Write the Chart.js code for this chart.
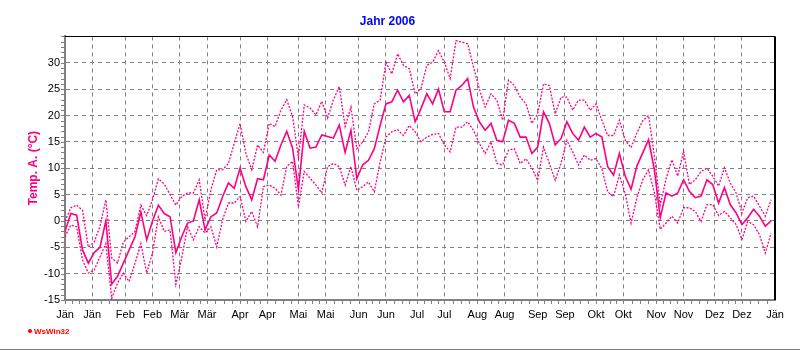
<!DOCTYPE html>
<html>
<head>
<meta charset="utf-8">
<script src="https://cdn.jsdelivr.net/npm/chart.js@4"></script>
<style>
    html, body { margin: 0; padding: 0; background: #fff; }
    #wrap { width: 800px; height: 350px; }
</style>
</head>
<body>
<div id="wrap"><canvas id="grafico" width="800" height="350"></canvas></div>
<script>
// Achse: Tage ab 1. Jänner
const tickTage = [0, 14, 31, 45, 59, 73, 90, 104, 120, 134, 151, 165, 181, 195, 212, 226, 243, 257, 273, 287, 304, 318, 334, 348, 365]
const tickNamen = ['Jän', 'Jän', 'Feb', 'Feb', 'Mär', 'Mär', 'Apr', 'Apr', 'Mai', 'Mai', 'Jun', 'Jun', 'Jul', 'Jul', 'Aug', 'Aug', 'Sep', 'Sep', 'Okt', 'Okt', 'Nov', 'Nov', 'Dez', 'Dez', 'Jän']

// ein Wert alle 3 Tage
const schritt = 3

const tempMittel = [
    -2, 1.4, 1.1, -5.5, -8, -6, -5, 0, -12, -10.5,
    -8, -5.5, -3, 1.7, -3.6, 0, 3, 1.4, 0.8, -6,
    -3, -0.4, 0, 4, -1.7, 0.8, 1.5, 4.6, 7.2, 6.2,
    10, 6.5, 4, 8, 7.8, 12.5, 11.3, 14.4, 17, 13.8,
    6, 17, 13.8, 14, 16.3, 16, 15.7, 18.2, 13, 17.2,
    8, 10.6, 11.5, 13.7, 18.1, 22.2, 22.6, 24.8, 22.6, 23.8,
    18.8, 21.3, 24.1, 22.2, 25, 20.7, 20.7, 24.8, 25.7, 27,
    21.6, 18.8, 17.2, 18.5, 15.3, 15, 19.1, 18.5, 15.9, 15.9,
    12.8, 14, 20.7, 18.5, 14.4, 15.6, 18.8, 16.6, 15.3, 17.8,
    15.9, 16.6, 15.9, 10.3, 8.7, 12.8, 8.5, 6, 10.4, 12.9,
    15.4, 9.7, 0.6, 5.3, 4.7, 5.3, 7.8, 5.6, 4.4, 4.7,
    7.8, 6.9, 3.4, 6.3, 3.1, 1.5, -0.7, 0.6, 2.2, 0.9,
    -1, 0
]

const tempMax = [
    0, 2.5, 3, 2, -5, -4, -1, 4, -7, -8,
    -4, -3, -2, 3, 1, 4, 8, 7, 5, 3,
    4.6, 5.3, 5.3, 7.8, 0.2, 5.9, 9.7, 9.7, 10.9, 14.7,
    18.5, 12.8, 9.7, 14.4, 13, 18.5, 17.9, 21, 23, 19.8,
    12, 22, 21.4, 20.1, 22.7, 19.5, 23, 25.5, 17.9, 21.6,
    13.7, 15, 16.9, 22.2, 22.9, 30.1, 27.9, 31.7, 29.5, 28.9,
    24.1, 25.1, 29.5, 30.1, 32.3, 30.1, 27, 34.2, 33.9, 33.6,
    29.2, 25, 21.6, 24.1, 22.9, 19.1, 26.7, 25.7, 23.5, 22.2,
    18.5, 20.3, 26, 25.7, 20.3, 23.5, 23.5, 21, 22.9, 22.9,
    21, 22.2, 19.1, 16.2, 16.2, 19.1, 15.3, 13.9, 16.7, 19,
    20, 12.3, 3, 8, 11.6, 8.5, 13.2, 6.9, 7.8, 9.4,
    10, 8.5, 6.6, 10.1, 7.2, 5.3, 1.5, 4.4, 4.7, 2.8,
    0.9, 4
]

const tempMin = [
    -3, -0.8, -1.1, -7.4, -9.9, -9.3, -6.8, -4.3, -14.7, -11.8,
    -9.9, -11.5, -8, -4.3, -9.9, -6, 0.8, -2, -1.7, -12,
    -7, -1.1, -3.6, -1.1, -2.3, -1.1, -4.9, 0.2, 3.4, 3.4,
    4.6, -0.1, 1.8, -1.1, 6.5, 6.8, 6.2, 4.9, 10.3, 11.3,
    2.7, 9.4, 8.1, 6.8, 5.3, 10.3, 10.9, 10.3, 6.8, 10.3,
    5.8, 6.5, 7.4, 5.5, 11.2, 15.9, 16.9, 17.3, 16.2, 18.1,
    16.9, 15, 15.9, 16.4, 16.6, 14.4, 13.1, 17.8, 17.8, 18.8,
    17.2, 14.7, 12.8, 15, 10.9, 10.6, 13.4, 13.7, 10.9, 11.8,
    10, 7.7, 14, 10.9, 7.7, 10.9, 15.3, 13.1, 10.6, 12.5,
    11.5, 11.8, 9.9, 5.5, 4.6, 8.7, 5.2, -0.4, 4.4, 7.8,
    9.7, 5.3, -1.6, -0.4, 0.9, -0.4, 2.5, 2.5, 1.8, -0.1,
    3.1, 3.1, 1, 1.8, 0.6, -0.7, -3.5, -0.1, -0.7, -2.6,
    -6.1, -2.3
]

const pink = '#ff0080'
const grau = '#808080'

function punkte(werte) {
    return werte.map(function (t, i) { return { x: i * schritt, y: t } })
}

// Rahmen oben/rechts, kleine Striche an den Achsen, WsWin32-Vermerk
const rahmen = {
    id: 'rahmen',
    afterDraw(chart) {
        const ctx = chart.ctx
        const a = chart.chartArea
        const sx = chart.scales.x
        const sy = chart.scales.y
        ctx.save()
        ctx.strokeStyle = '#000'
        ctx.lineWidth = 1
        ctx.beginPath()
        ctx.moveTo(a.left, Math.round(a.top) + 0.5)
        ctx.lineTo(a.right, Math.round(a.top) + 0.5)
        ctx.stroke()
        ctx.lineWidth = 2
        ctx.beginPath()
        ctx.moveTo(Math.round(a.right), a.top)
        ctx.lineTo(Math.round(a.right), a.bottom)
        ctx.stroke()

        ctx.strokeStyle = grau
        ctx.lineWidth = 1
        ctx.beginPath()
        for (let t = -15; t <= 35; t++) {
            const py = Math.round(sy.getPixelForValue(t)) + 0.5
            ctx.moveTo(a.left - 4, py)
            ctx.lineTo(a.left - 1, py)
        }
        for (let i = 0; i < tickTage.length - 1; i++) {
            for (let k = 0; k < 4; k++) {
                const tag = tickTage[i] + (tickTage[i + 1] - tickTage[i]) * k / 4
                const px = Math.round(sx.getPixelForValue(tag)) + 0.5
                ctx.moveTo(px, a.bottom + 1)
                ctx.lineTo(px, a.bottom + 4)
            }
        }
        ctx.stroke()

        ctx.fillStyle = '#ff0000'
        ctx.beginPath()
        ctx.arc(30, 331, 2, 0, Math.PI * 2)
        ctx.fill()
        ctx.font = 'bold 8px Arial, "Liberation Sans", sans-serif'
        ctx.textBaseline = 'middle'
        ctx.fillText('WsWin32', 34, 331.5)

        ctx.strokeStyle = grau
        ctx.beginPath()
        ctx.moveTo(0, 349.5)
        ctx.lineTo(800, 349.5)
        ctx.stroke()
        ctx.restore()
    }
}

Chart.defaults.font.family = 'Arial, "Liberation Sans", sans-serif'

const ctx = document.getElementById('grafico').getContext('2d')

const grafico = new Chart(ctx, {
    type: 'line',
    data: {
        datasets: [{
            label: 'Temp. A. Max',
            data: punkte(tempMax),
            borderColor: pink,
            borderWidth: 1.3,
            borderDash: [2, 1.5],
            pointRadius: 0,
            tension: 0
        }, {
            label: 'Temp. A. Min',
            data: punkte(tempMin),
            borderColor: pink,
            borderWidth: 1.3,
            borderDash: [2, 1.5],
            pointRadius: 0,
            tension: 0
        }, {
            label: 'Temp. A.',
            data: punkte(tempMittel),
            borderColor: pink,
            borderWidth: 1.6,
            pointRadius: 0,
            tension: 0
        }]
    },
    options: {
        responsive: false,
        animation: false,
        layout: { padding: { left: 0, right: 25, top: 0, bottom: 0 } },
        plugins: {
            legend: { display: false },
            tooltip: { enabled: false },
            title: {
                display: true,
                text: 'Jahr 2006',
                color: '#0000ff',
                font: { size: 12, weight: 'bold' },
                padding: { top: 14, bottom: 8 }
            }
        },
        scales: {
            x: {
                type: 'linear',
                min: 0,
                max: 365,
                afterFit: function (scale) { scale.height = 50 },
                afterBuildTicks: function (scale) {
                    scale.ticks = tickTage.map(function (t) { return { value: t } })
                },
                ticks: {
                    autoSkip: false,
                    maxRotation: 0,
                    color: '#000',
                    font: { size: 11 },
                    padding: 8,
                    callback: function (v, i) { return tickNamen[i] }
                },
                grid: { color: grau, lineWidth: 1, drawTicks: false },
                border: { display: true, color: grau, width: 2, dash: [4, 4] }
            },
            y: {
                min: -15,
                max: 35,
                afterFit: function (scale) { scale.width = 65 },
                ticks: {
                    stepSize: 5,
                    color: '#000',
                    font: { size: 11 },
                    padding: 5,
                    callback: function (v) { return v === 35 ? '' : v }
                },
                grid: { color: grau, lineWidth: 1, drawTicks: false },
                border: { display: true, color: grau, width: 2, dash: [4, 4] },
                title: {
                    display: true,
                    text: 'Temp. A. (°C)',
                    color: pink,
                    font: { size: 12, weight: 'bold' },
                    padding: { top: 26, bottom: 0 }
                }
            }
        }
    },
    plugins: [rahmen]
})
</script>
</body>
</html>
